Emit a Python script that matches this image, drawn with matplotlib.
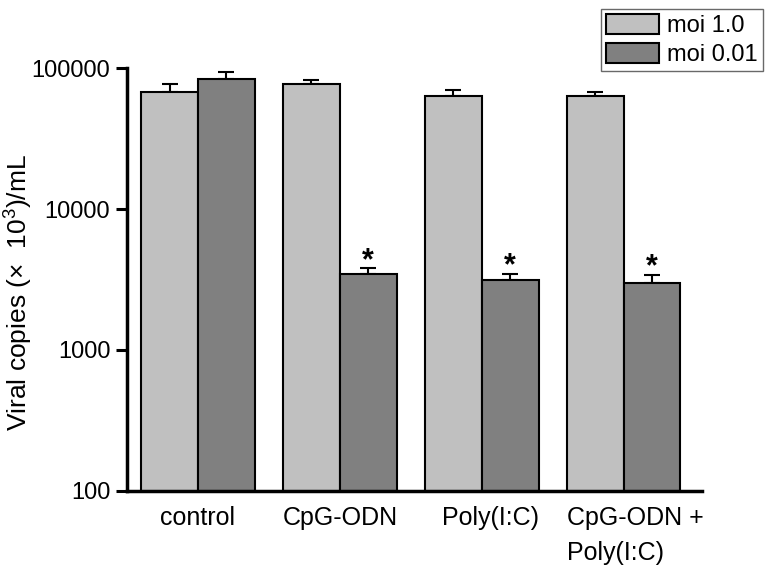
import matplotlib
matplotlib.use("Agg")
import matplotlib.pyplot as plt
import matplotlib.transforms as mtransforms
import numpy as np

plt.rcParams['font.family'] = ['Liberation Sans', 'DejaVu Sans']
plt.rcParams['mathtext.fontset'] = 'custom'
plt.rcParams['mathtext.rm'] = 'Liberation Sans'
plt.rcParams['mathtext.it'] = 'Liberation Sans:italic'

categories = ["control", "CpG-ODN", "Poly(I:C)", "CpG-ODN +\nPoly(I:C)"]
series_names = ["moi 1.0", "moi 0.01"]
moi_1 = [67900, 76600, 63300, 63600]
moi_1_err = [9100, 6000, 6500, 4300]
moi_001 = [83600, 3440, 3140, 2990]
moi_001_err = [10500, 360, 340, 430]
significant = [False, True, True, True]
yticks = [100, 1000, 10000, 100000]

fig = plt.figure(figsize=(7.72, 5.65), dpi=100)
ax = fig.add_axes([0.1645, 0.131, 0.7445, 0.7486])

x = np.arange(len(categories))
w = 0.4
light = "#c0c0c0"
dark = "#808080"
ax.bar(x - w/2, moi_1, width=w, color=light, edgecolor="black", linewidth=1.5,
       label=series_names[0], zorder=2)
ax.bar(x + w/2, moi_001, width=w, color=dark, edgecolor="black", linewidth=1.5,
       label=series_names[1], zorder=2)
ax.errorbar(x - w/2, moi_1, yerr=[np.zeros(4), moi_1_err], fmt="none",
            ecolor="black", elinewidth=1.5, capsize=6, capthick=1.5, zorder=1)
ax.errorbar(x + w/2, moi_001, yerr=[np.zeros(4), moi_001_err], fmt="none",
            ecolor="black", elinewidth=1.5, capsize=6, capthick=1.5, zorder=1)
for xi, v, e, s in zip(x, moi_001, moi_001_err, significant):
    if s:
        ax.text(xi + w/2, (v + e) * 1.13, "*", ha="center", va="center",
                fontsize=22, fontweight="bold")

ax.set_yscale("log")
ax.set_ylim(100, 100000)
ax.set_xlim(-0.5, 3.55)
ax.set_yticks(yticks)
ax.set_yticklabels([str(t) for t in yticks])
ax.yaxis.set_minor_locator(matplotlib.ticker.NullLocator())
ax.set_xticks(x)
ax.set_xticklabels(categories)
ax.tick_params(axis="x", length=0, pad=11, labelsize=18)
ax.tick_params(axis="y", length=8, width=2.2, direction="out", labelsize=17, pad=4)
labels = ax.get_xticklabels()
labels[2].set_transform(labels[2].get_transform() +
                        mtransforms.ScaledTranslation(0.09, 0, fig.dpi_scale_trans))
labels[3].set_horizontalalignment("left")
labels[3].set_multialignment("left")
labels[3].set_linespacing(1.55)
labels[3].set_transform(labels[3].get_transform() +
                        mtransforms.ScaledTranslation(-0.57, 0, fig.dpi_scale_trans))
for sp in ["top", "right"]:
    ax.spines[sp].set_visible(False)
for sp in ["left", "bottom"]:
    ax.spines[sp].set_linewidth(2.5)
ax.set_ylabel(r"Viral copies (×  10$^3$)/mL", fontsize=19)
ax.yaxis.set_label_coords(-0.16, 0.47)

leg = fig.legend(loc="upper right", bbox_to_anchor=(0.988, 0.984), fontsize=17,
                 frameon=True, fancybox=False, edgecolor="#444444",
                 handlelength=2.25, handleheight=0.95, borderpad=0.2,
                 labelspacing=0.25, handletextpad=0.35, borderaxespad=0)
leg.get_frame().set_linewidth(1.0)
for p in leg.get_patches():
    p.set_linewidth(1.5)

fig.savefig("out.png", dpi=100)
